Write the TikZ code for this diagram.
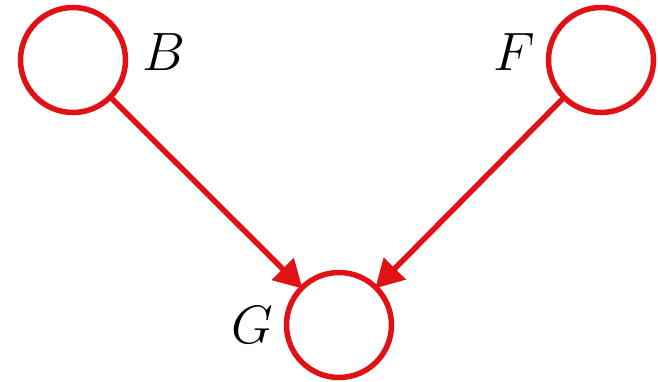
\documentclass[tikz,border=0pt]{standalone}
\usepackage{tikz}
\usetikzlibrary{arrows.meta, positioning}
\definecolor{netred}{RGB}{224,18,22}
\tikzset{
  %% ---- nodes ----
  varnode/.style  = {circle, draw=netred, line width=5.5pt, fill=white,
                     minimum size=105pt, inner sep=0pt, outer sep=0pt},
  varlabel/.style = {inner sep=0pt, font=\Huge, scale=2.17},
  %% ---- arrows ----
  edge/.style     = {-{Triangle[length=28pt, width=30pt]}, line width=5.5pt,
                     color=netred, shorten >=-1pt},
}
\begin{document}
\begin{tikzpicture}[x=1pt, y=-1pt]
\useasboundingbox (0,0) rectangle (658,381);
\node[varnode] (B) at (73,60)  {};
\node[varnode] (F) at (601,60) {};
\node[varnode] (G) at (339,325) {};
\node[varlabel] (labB) at (164,52)  {$B$};
\node[varlabel] (labF) at (514,52)  {$F$};
\node[varlabel] (labG) at (252,325) {$G$};
\draw[edge] (B) -- (G);
\draw[edge] (F) -- (G);
\end{tikzpicture}
\end{document}
